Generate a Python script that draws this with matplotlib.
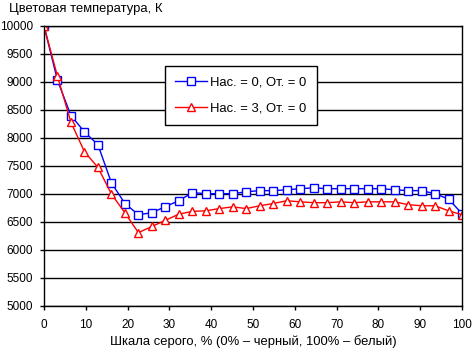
import matplotlib
matplotlib.use("Agg")
import matplotlib.pyplot as plt
import numpy as np

plt.rcParams['font.family'] = ['Liberation Sans', 'DejaVu Sans']

# --------- DATI ---------
shkala = np.arange(32) / 31 * 100  # 32 punti da 0 a 100 %

nas0 = [10000, 9030, 8400, 8110, 7880, 7200, 6830, 6630, 6665, 6775,
        6880, 7025, 7005, 7005, 7005, 7040, 7060, 7060, 7075, 7095,
        7110, 7095, 7095, 7095, 7095, 7095, 7075, 7060, 7060, 7005,
        6910, 6650]
nas3 = [10000, 9100, 8280, 7755, 7475, 7000, 6665, 6310, 6420, 6530,
        6640, 6690, 6700, 6740, 6770, 6740, 6790, 6830, 6880, 6860,
        6845, 6845, 6860, 6845, 6860, 6860, 6860, 6810, 6790, 6790,
        6700, 6630]

label0 = "Нас. = 0, От. = 0"
label3 = "Нас. = 3, От. = 0"

# --------- GRAFICO ---------
fig = plt.figure(figsize=(4.72, 3.49), dpi=100)
ax = fig.add_axes([44/472, 1 - 306/349, 418/472, 280/349])

ax.plot(shkala, nas0, '-s', color='blue', linewidth=1,
        markersize=5.2, markerfacecolor='white', markeredgecolor='blue',
        markeredgewidth=1, label=label0)
ax.plot(shkala, nas3, '-^', color='red', linewidth=1,
        markersize=5.8, markerfacecolor='white', markeredgecolor='red',
        markeredgewidth=1, label=label3)

ax.set_xlim(0, 100)
ax.set_ylim(5000, 10000)
ax.set_xticks(np.arange(0, 101, 10))
ax.set_yticks(np.arange(5000, 10001, 500))
ax.grid(axis='y', color='black', linewidth=1)
ax.set_axisbelow(True)
for sp in ax.spines.values():
    sp.set_color('black')
    sp.set_linewidth(1)
ax.tick_params(direction='out', length=3, width=1, labelsize=8.5)
ax.tick_params(axis='x', pad=6)
ax.tick_params(axis='y', pad=5)

ax.set_xlabel("Шкала серого, % (0% – черный, 100% – белый)", fontsize=9.4, labelpad=3)
fig.text(9/472, 1 - 9/349, "Цветовая температура, К", fontsize=9.4, va='center', ha='left')

leg = ax.legend(loc='upper left', bbox_to_anchor=(0.289, 0.856), borderaxespad=0,
                fontsize=9.4, fancybox=False, framealpha=1, edgecolor='black',
                handlelength=2.4, labelspacing=1.0, borderpad=0.8, handletextpad=0.3)
leg.get_frame().set_linewidth(1)

plt.savefig("out.png", dpi=100)
